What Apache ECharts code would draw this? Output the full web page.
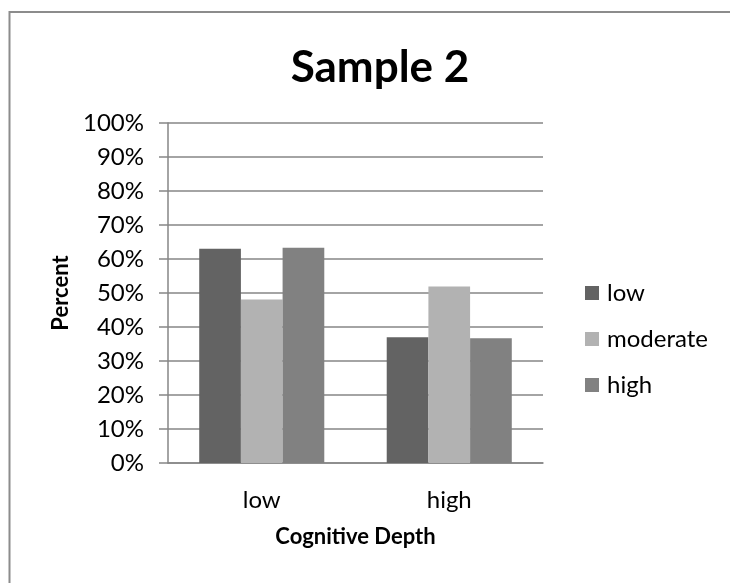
<!DOCTYPE html>
<html>
<head>
<meta charset="utf-8">
<script src="https://cdn.jsdelivr.net/npm/echarts@6/dist/echarts.min.js"></script>
<style>
  html, body { margin: 0; padding: 0; background: #fff; }
  #chart { width: 730px; height: 583px; }
</style>
</head>
<body>
<div id="chart"></div>
<script>
// Share of responses by cognitive depth (percent)
const categories = ['low', 'high'];
const seriesNames = ['low', 'moderate', 'high'];
const lowValues = [63.0, 37.0];
const moderateValues = [48.1, 51.9];
const highValues = [63.3, 36.7];
const yTicks = [0, 10, 20, 30, 40, 50, 60, 70, 80, 90, 100];

const FONT = 'Lato, "Open Sans", sans-serif';
const GRID_COLOR = '#868686';
const colors = ['#636363', '#b2b2b2', '#818181'];

const chart = echarts.init(document.getElementById('chart'));

const values = [lowValues, moderateValues, highValues];

chart.setOption({
  animation: false,
  backgroundColor: '#ffffff',
  color: colors,
  title: {
    text: 'Sample 2',
    left: 375,
    top: 41,
    textAlign: 'center',
    textStyle: { fontFamily: FONT, fontSize: 44, fontWeight: 'bold', color: '#000' }
  },
  grid: { left: 168, right: 187, top: 123, bottom: 120, containLabel: false },
  legend: {
    orient: 'vertical',
    left: 580,
    top: 276,
    itemGap: 22,
    itemWidth: 14,
    itemHeight: 14,
    icon: 'rect',
    data: seriesNames,
    textStyle: { fontFamily: FONT, fontSize: 24, color: '#000', padding: [0, 0, 0, 3] }
  },
  xAxis: {
    type: 'category',
    data: categories,
    name: 'Cognitive Depth',
    nameLocation: 'middle',
    nameGap: 63,
    nameTextStyle: { fontFamily: FONT, fontSize: 22, fontWeight: 'bold', color: '#000' },
    axisLine: { show: true, lineStyle: { color: GRID_COLOR, width: 1.5 } },
    axisTick: { show: false },
    axisLabel: { fontFamily: FONT, fontSize: 24, color: '#000', margin: 25 }
  },
  yAxis: {
    type: 'value',
    min: yTicks[0],
    max: yTicks[yTicks.length - 1],
    interval: 10,
    name: 'Percent',
    nameLocation: 'middle',
    nameGap: 93,
    nameRotate: 90,
    nameTextStyle: { fontFamily: FONT, fontSize: 22, fontWeight: 'bold', color: '#000' },
    axisLine: { show: true, lineStyle: { color: GRID_COLOR, width: 1.5 } },
    axisTick: { show: true, inside: false, length: 9, lineStyle: { color: GRID_COLOR, width: 1.5 } },
    splitLine: { show: true, lineStyle: { color: GRID_COLOR, width: 1.5 } },
    axisLabel: {
      fontFamily: FONT, fontSize: 24, color: '#000', margin: 24,
      formatter: v => v + '%'
    }
  },
  series: seriesNames.map((name, i) => ({
    name: name,
    type: 'bar',
    data: values[i],
    barGap: '0%',
    barCategoryGap: '33.3%',
    itemStyle: { color: colors[i] }
  })),
  graphic: [
    {
      type: 'polyline',
      silent: true,
      shape: { points: [[9.5, 583], [9.5, 12], [730, 12]] },
      style: { stroke: '#8c8c8c', lineWidth: 2, fill: null }
    }
  ]
});
</script>
</body>
</html>
